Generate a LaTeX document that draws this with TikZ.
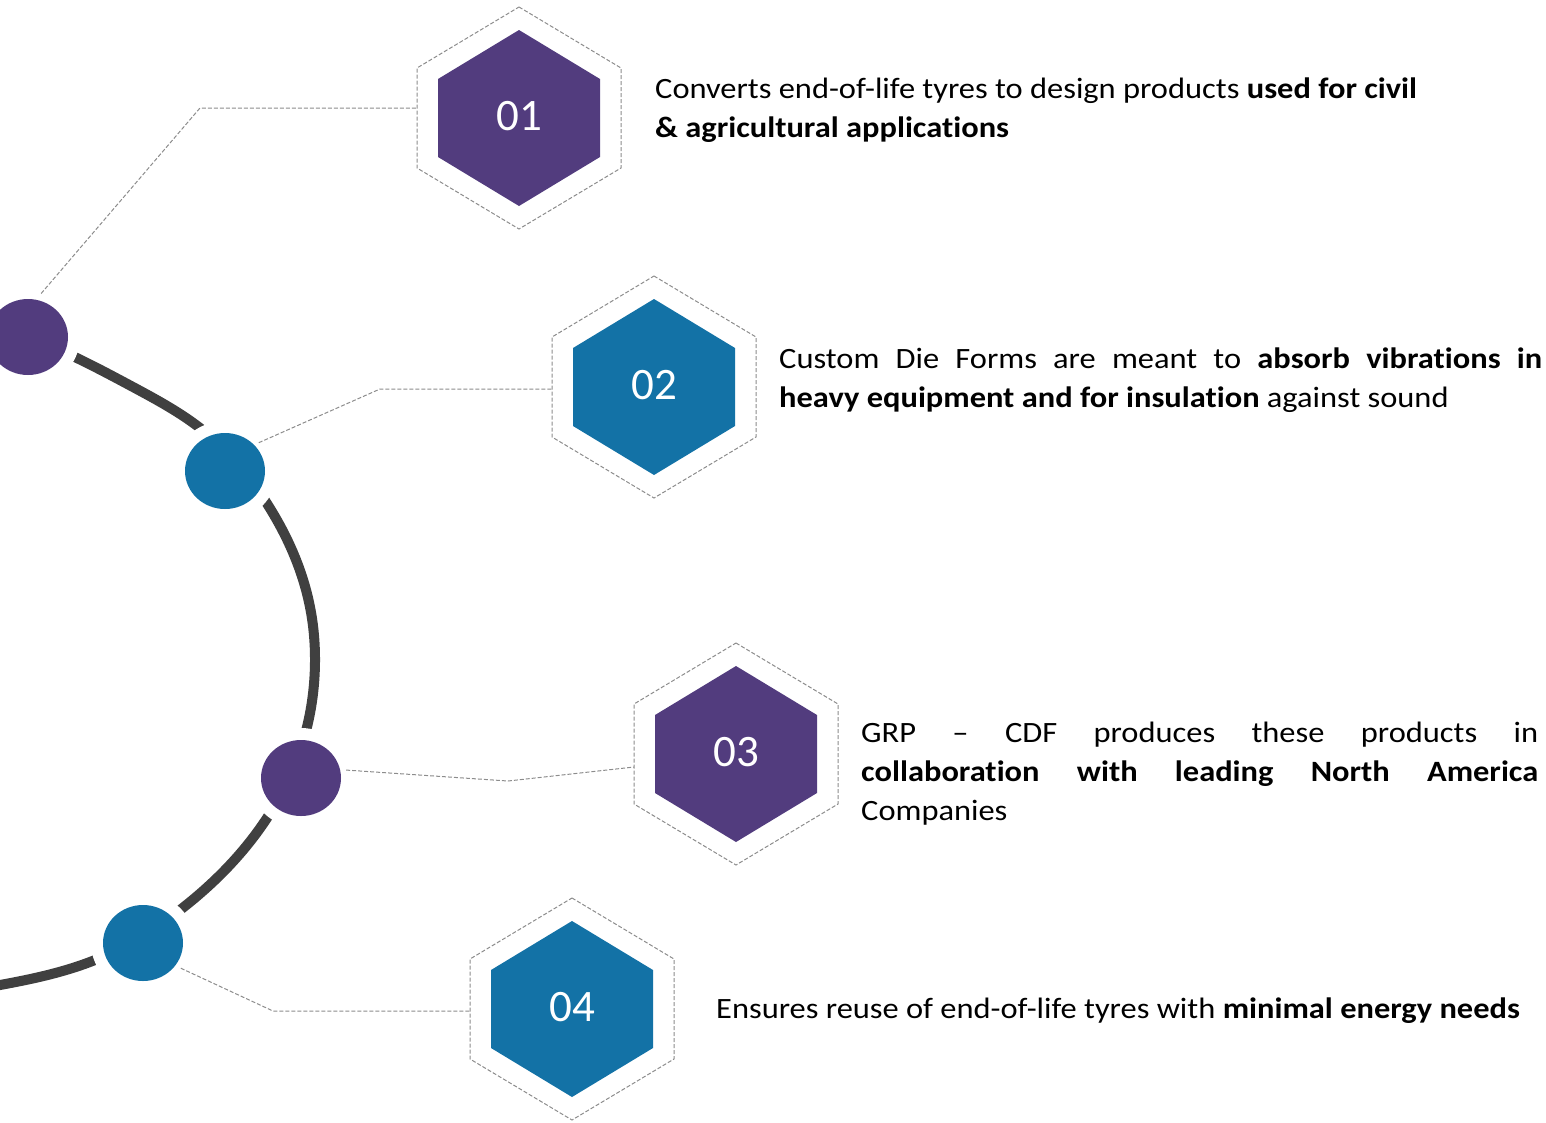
\documentclass[tikz,border=0pt]{standalone}
\usepackage{fontspec}
\setmainfont{Carlito}[FakeStretch=1.1, Ligatures=NoCommon]
\newfontfamily\numfont{Carlito}
\usetikzlibrary{shapes.geometric,calc,hobby}
\definecolor{purp}{HTML}{523C7E}
\definecolor{blu}{HTML}{1372A6}
\definecolor{arcgray}{HTML}{404040}
\definecolor{dashgray}{HTML}{8C8C8C}
\tikzset{
  dotnode/.style={ellipse, minimum width=80, minimum height=76, inner sep=0pt},
  conn/.style={draw=dashgray, line width=1pt, dash pattern=on 4pt off 2pt},
  hexout/.style={draw=dashgray, line width=1pt, dash pattern=on 4pt off 2pt},
  numtxt/.style={text=white, inner sep=0pt, font=\numfont\fontsize{45}{50}\selectfont},
  desc/.style={anchor=north west, inner sep=0pt, align=left, font=\fontsize{29.5}{39}\selectfont}
}
\newcommand\hexbadge[4]{%
  \begin{scope}[shift={#2}]
    \draw[hexout] (0,-111) -- (102,-50) -- (102,50) -- (0,111) -- (-102,50) -- (-102,-50) -- cycle;
    \fill[#3] (0,-88) -- (81,-39) -- (81,39) -- (0,88) -- (-81,39) -- (-81,-39) -- cycle;
    \node[numtxt] (#1) at (0,-2) {#4};
  \end{scope}}
\begin{document}
\begin{tikzpicture}[x=1pt,y=-1pt]
\useasboundingbox (0,0) rectangle (1546,1122);
% centres
\coordinate (p1) at (28,337);
\coordinate (p2) at (225,471);
\coordinate (p3) at (301,778);
\coordinate (p4) at (143,943);
% arc
\draw[arcgray, line width=10pt, use Hobby shortcut]
 (-40,318) .. (28,337) .. (133,387) .. (200,428) .. (266,502) .. (310,607)
 .. (315,662) .. (307,727) .. (267,818) .. (180,910) .. (95,960) .. (0,985) .. (-60,995);
% halos
\foreach \p in {p1,p2,p3,p4}{\fill[white] (\p) ellipse [x radius=52, y radius=50];}
% circles
\node[dotnode, fill=purp] (c1) at (p1) {};
\node[dotnode, fill=blu] (c2) at (p2) {};
\node[dotnode, fill=purp] (c3) at (p3) {};
\node[dotnode, fill=blu] (c4) at (p4) {};
% hexagons
\hexbadge{h1}{(519,118)}{purp}{01}
\hexbadge{h2}{(654,387)}{blu}{02}
\hexbadge{h3}{(736,754)}{purp}{03}
\hexbadge{h4}{(572,1009)}{blu}{04}
% connector bends and ends
\coordinate (k1) at (200,108);  \coordinate (e1) at (417,108);
\coordinate (k2) at (380,389);  \coordinate (e2) at (552,389);
\coordinate (k3) at (508,781);  \coordinate (e3) at (634,767);
\coordinate (k4) at (273,1011); \coordinate (e4) at (470,1011);
\draw[conn, shorten <=8pt] (c1.78) -- (k1) -- (e1);
\draw[conn, shorten <=5pt] (c2.42) -- (k2) -- (e2);
\draw[conn, shorten <=6pt] (c3.12) -- (k3) -- (e3);
\draw[conn, shorten <=6pt] (c4.-35) -- (k4) -- (e4);
% texts
\node[desc] (t1) at (655,70.7) {\strut Converts end-of-life tyres to design products \textbf{used for civil}\\\textbf{\& agricultural applications}};
\node[desc] (t2) at (779,340.7) {\makebox[763pt][s]{\strut Custom Die Forms are meant to \textbf{absorb vibrations in}}\\\textbf{heavy equipment and for insulation} against sound};
\node[desc] (t3) at (861,714.7) {\makebox[677pt][s]{\strut GRP – CDF produces these products in}\\\makebox[677pt][s]{\textbf{collaboration with leading North America}}\\Companies};
\node[desc] (t4) at (716,990.7) {\strut Ensures reuse of end-of-life tyres with \textbf{minimal energy needs}};
\end{tikzpicture}
\end{document}
